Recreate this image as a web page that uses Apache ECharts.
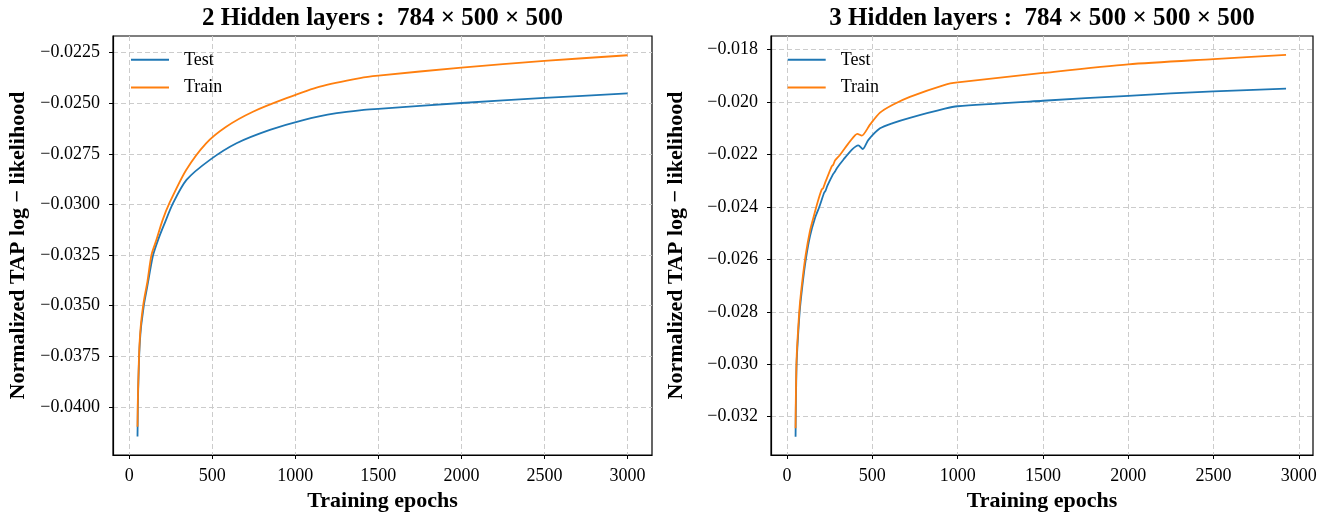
<!DOCTYPE html>
<html>
<head>
<meta charset="utf-8">
<script src="https://cdn.jsdelivr.net/npm/echarts@6/dist/echarts.min.js"></script>
<style>
html,body{margin:0;padding:0;background:#fff;}
#chart{width:1341px;height:512px;}
</style>
</head>
<body>
<div id="chart"></div>
<script>
// ---- Data ----
const titleLeft = '2 Hidden layers :  784 × 500 × 500';
const titleRight = '3 Hidden layers :  784 × 500 × 500 × 500';
const xName = 'Training epochs';
const yName = 'Normalized TAP log − likelihood';
const seriesNames = ['Test', 'Train'];

const xTicks = [0, 500, 1000, 1500, 2000, 2500, 3000];
const yTicksLeft = [-0.0400, -0.0375, -0.0350, -0.0325, -0.0300, -0.0275, -0.0250, -0.0225];
const yTicksRight = [-0.032, -0.030, -0.028, -0.026, -0.024, -0.022, -0.020, -0.018];

// Left panel: 2 hidden layers
const leftTestEpochs = [50, 51, 52, 54, 57, 60, 65, 72, 80, 88, 94, 110, 125, 144, 174, 210, 264, 345, 486, 646, 847, 1048, 1249, 1400, 1500, 2000, 2500, 3000];
const leftTestValues = [-0.04147, -0.0408, -0.0400, -0.0392, -0.0383, -0.0375, -0.0367, -0.0360, -0.0355, -0.0350, -0.0347, -0.0340, -0.0333, -0.0325, -0.03175, -0.0310, -0.02994, -0.02879, -0.02780, -0.02698, -0.02632, -0.02583, -0.02549, -0.02534, -0.02528, -0.02499, -0.02474, -0.02451];
const leftTrainEpochs = [50, 51, 52, 54, 57, 60, 65, 72, 84, 94, 110, 134, 164, 200, 242, 343, 463, 584, 745, 947, 1148, 1390, 1500, 2000, 2500, 3000];
const leftTrainValues = [-0.04098, -0.0403, -0.0397, -0.0390, -0.0381, -0.0373, -0.0365, -0.0358, -0.0350, -0.0345, -0.0338, -0.0325, -0.03175, -0.0308, -0.02994, -0.02830, -0.02698, -0.02616, -0.02542, -0.02475, -0.02418, -0.02376, -0.02364, -0.02324, -0.02291, -0.02263];

// Right panel: 3 hidden layers
const rightTestEpochs = [50, 51, 53, 56, 62, 74, 90, 110, 135, 164, 189, 218, 226, 236, 270, 281, 292, 330, 379, 418, 444, 477, 545, 620, 720, 925, 1000, 1500, 2000, 2500, 2925];
const rightTestValues = [-0.03276, -0.0320, -0.0310, -0.0300, -0.0292, -0.0280, -0.0270, -0.0260, -0.0251, -0.02442, -0.0240, -0.02345, -0.02338, -0.0232, -0.02275, -0.02265, -0.02252, -0.02220, -0.02182, -0.02165, -0.02179, -0.02144, -0.0210, -0.0208, -0.0206, -0.02025, -0.02016, -0.01995, -0.01976, -0.01959, -0.01949];
const rightTrainEpochs = [50, 51, 53, 56, 62, 74, 90, 110, 135, 154, 180, 203, 212, 222, 262, 271, 282, 311, 369, 412, 438, 486, 545, 620, 720, 925, 1000, 1500, 2000, 2500, 2925];
const rightTrainValues = [-0.03244, -0.0316, -0.0307, -0.0298, -0.0290, -0.0278, -0.0268, -0.0258, -0.0249, -0.02442, -0.0238, -0.02334, -0.02328, -0.0231, -0.02245, -0.02239, -0.02222, -0.02201, -0.02150, -0.02121, -0.02128, -0.02086, -0.0204, -0.0201, -0.0198, -0.01934, -0.01925, -0.01889, -0.01856, -0.01836, -0.01820];

// ---- Build ----
function pairs(xs, ys) { return xs.map((x, i) => [x, ys[i]]); }
const FONT = '"Liberation Serif", "DejaVu Serif", serif';
const BLUE = '#1f77b4', ORANGE = '#ff7f0e';
const gridLineStyle = { color: '#cccccc', width: 1, type: [5, 3] };

function xAxis(gridIndex, min, max) {
  return {
    type: 'value', gridIndex, min, max,
    name: xName, nameLocation: 'middle', nameGap: 31,
    nameTextStyle: { fontFamily: FONT, fontWeight: 'bold', fontSize: 22, color: '#000' },
    axisLine: { show: true, onZero: false, lineStyle: { color: '#000', width: 1.2 } },
    axisTick: { show: true, inside: false, length: 4, lineStyle: { color: '#000', width: 1 }, customValues: xTicks },
    axisLabel: { show: true, margin: 12, fontFamily: FONT, fontSize: 18, color: '#000', customValues: xTicks,
      formatter: v => String(v) },
    splitLine: { show: true, lineStyle: gridLineStyle }
  };
}
function yAxis(gridIndex, min, max, ticks, digits) {
  return {
    type: 'value', gridIndex, min, max,
    name: yName, nameLocation: 'middle', nameGap: 84,
    nameTextStyle: { fontFamily: FONT, fontWeight: 'bold', fontSize: 22, color: '#000' },
    axisLine: { show: true, onZero: false, lineStyle: { color: '#000', width: 1.2 } },
    axisTick: { show: true, inside: false, length: 4, lineStyle: { color: '#000', width: 1 }, customValues: ticks },
    axisLabel: { show: true, margin: 13, fontFamily: FONT, fontSize: 18, color: '#000', customValues: ticks,
      formatter: v => (v < 0 ? '\u2212' : '') + Math.abs(v).toFixed(digits) },
    splitLine: { show: true, lineStyle: gridLineStyle }
  };
}
function line(name, data, color, xi, yi) {
  return {
    type: 'line', name, data, xAxisIndex: xi, yAxisIndex: yi,
    symbol: 'none', showSymbol: false, smooth: 0.25, animation: false, z: 3,
    lineStyle: { color, width: 1.8 }, itemStyle: { color }
  };
}
function legend(left) {
  return {
    data: seriesNames, orient: 'vertical', left, top: 50.8, padding: 0,
    itemWidth: 38, itemHeight: 2, itemGap: 9.7,
    itemStyle: { opacity: 0 },
    textStyle: { fontFamily: FONT, fontSize: 18, color: '#000', padding: [0, 0, 0, 10] }
  };
}

const chart = echarts.init(document.getElementById('chart'), null, { renderer: 'canvas' });
chart.setOption({
  animation: false,
  backgroundColor: '#fff',
  grid: [
    { left: 113, top: 36, width: 539, height: 419, outerBoundsMode: 'none', containLabel: false, show: true, borderColor: '#000', borderWidth: 1.2, backgroundColor: 'transparent' },
    { left: 771, top: 36, width: 542, height: 419, outerBoundsMode: 'none', containLabel: false, show: true, borderColor: '#000', borderWidth: 1.2, backgroundColor: 'transparent' }
  ],
  xAxis: [xAxis(0, -97.5, 3147.5), xAxis(1, -94, 3083)],
  yAxis: [yAxis(0, -0.04238, -0.02168, yTicksLeft, 4), yAxis(1, -0.03346, -0.01748, yTicksRight, 3)],
  legend: [legend(130), legend(786.7)],
  graphic: [
    { type: 'text', x: 382.5, y: 19, style: { text: titleLeft, font: 'bold 25px ' + FONT, fill: '#000', align: 'center', verticalAlign: 'middle' } },
    { type: 'text', x: 1042, y: 19, style: { text: titleRight, font: 'bold 25px ' + FONT, fill: '#000', align: 'center', verticalAlign: 'middle' } }
  ],
  series: [
    line(seriesNames[0], pairs(leftTestEpochs, leftTestValues), BLUE, 0, 0),
    line(seriesNames[1], pairs(leftTrainEpochs, leftTrainValues), ORANGE, 0, 0),
    line(seriesNames[0], pairs(rightTestEpochs, rightTestValues), BLUE, 1, 1),
    line(seriesNames[1], pairs(rightTrainEpochs, rightTrainValues), ORANGE, 1, 1)
  ]
});
</script>
</body>
</html>
